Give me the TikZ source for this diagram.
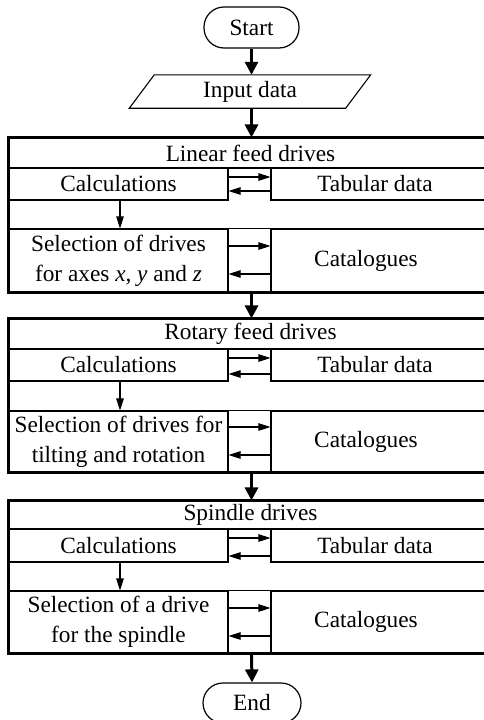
\documentclass[tikz,border=0pt]{standalone}
\usepackage{fontspec}
\setmainfont{Liberation Serif}
\usetikzlibrary{arrows.meta,calc}
\tikzset{
  thinline/.style={line width=1.1pt},
  cellbox/.style={draw, line width=1.1pt, inner sep=0pt, anchor=center, align=center},
  txt/.style={inner sep=0pt, anchor=center},
  terminal/.style={draw, line width=1.2pt, rounded corners=20pt, inner sep=0pt, anchor=center},
  outerbox/.style={line width=3pt},
  bigarrow/.style={line width=3pt, -{Triangle[length=13pt,width=13pt]}},
  smallarrow/.style={line width=1.1pt, -{Triangle[length=12pt,width=7.5pt]}},
}
\begin{document}
\begin{tikzpicture}[x=1pt,y=-1pt,font=\fontsize{23.3}{30}\selectfont]
\useasboundingbox (0,0) rectangle (484,720);
\clip (0,0) rectangle (484,720);

% Start and input
\node[terminal, minimum width=95, minimum height=41] (start) at (251.5,27.5) {Start};
\node[txt, minimum width=241, minimum height=33] (input) at (250,91.5) {Input data};
\draw[thinline] ($(input.north west)+(25,0)$) -- (input.north east) -- ($(input.south east)+(-25,0)$) -- (input.south west) -- cycle;

% ---------- Block 1 ----------
\node[cellbox, minimum width=483, minimum height=30] (title1) at (250.5,153) {Linear feed drives};
\node[cellbox, minimum width=219, minimum height=32] (calc1) at (118.5,184) {Calculations};
\node[cellbox, minimum width=221, minimum height=32] (tab1) at (381.5,184) {};
\node[txt] (tabt1) at (375,184) {Tabular data};
\node[cellbox, minimum width=219, minimum height=63] (sel1) at (118.5,260.5) {Selection of drives\\for axes \textit{x}, \textit{y} and \textit{z}};
\node[cellbox, minimum width=221, minimum height=63] (cat1) at (381.5,260.5) {};
\node[txt] (catt1) at (366,260.5) {Catalogues};
\draw[thinline] (sel1.north east) -- (cat1.north west);
\draw[smallarrow] (calc1.east |- 0,177) -- (tab1.west |- 0,177);
\draw[smallarrow] (tab1.west |- 0,191) -- (calc1.east |- 0,191);
\draw[smallarrow] (sel1.east |- 0,246) -- (cat1.west |- 0,246);
\draw[smallarrow] (cat1.west |- 0,274) -- (sel1.east |- 0,274);
\draw[smallarrow] (calc1.south -| 120,0) -- (sel1.north -| 120,0);
\draw[outerbox] (title1.north west) rectangle (cat1.south east);

% ---------- Block 2 ----------
\node[cellbox, minimum width=483, minimum height=30] (title2) at (250.5,334) {Rotary feed drives};
\node[cellbox, minimum width=219, minimum height=32] (calc2) at (118.5,365) {Calculations};
\node[cellbox, minimum width=221, minimum height=32] (tab2) at (381.5,365) {};
\node[txt] (tabt2) at (375,365) {Tabular data};
\node[cellbox, minimum width=219, minimum height=61] (sel2) at (118.5,441.5) {Selection of drives for\\tilting and rotation};
\node[cellbox, minimum width=221, minimum height=61] (cat2) at (381.5,441.5) {};
\node[txt] (catt2) at (366,441.5) {Catalogues};
\draw[thinline] (sel2.north east) -- (cat2.north west);
\draw[smallarrow] (calc2.east |- 0,358) -- (tab2.west |- 0,358);
\draw[smallarrow] (tab2.west |- 0,374) -- (calc2.east |- 0,374);
\draw[smallarrow] (sel2.east |- 0,427) -- (cat2.west |- 0,427);
\draw[smallarrow] (cat2.west |- 0,455) -- (sel2.east |- 0,455);
\draw[smallarrow] (calc2.south -| 120,0) -- (sel2.north -| 120,0);
\draw[outerbox] (title2.north west) rectangle (cat2.south east);

% ---------- Block 3 ----------
\node[cellbox, minimum width=483, minimum height=28] (title3) at (250.5,515) {Spindle drives};
\node[cellbox, minimum width=219, minimum height=33] (calc3) at (118.5,545.5) {Calculations};
\node[cellbox, minimum width=221, minimum height=33] (tab3) at (381.5,545.5) {};
\node[txt] (tabt3) at (375,545.5) {Tabular data};
\node[cellbox, minimum width=219, minimum height=62] (sel3) at (118.5,622) {Selection of a drive\\for the spindle};
\node[cellbox, minimum width=221, minimum height=62] (cat3) at (381.5,622) {};
\node[txt] (catt3) at (366,622) {Catalogues};
\draw[thinline] (sel3.north east) -- (cat3.north west);
\draw[smallarrow] (calc3.east |- 0,538) -- (tab3.west |- 0,538);
\draw[smallarrow] (tab3.west |- 0,556) -- (calc3.east |- 0,556);
\draw[smallarrow] (sel3.east |- 0,608) -- (cat3.west |- 0,608);
\draw[smallarrow] (cat3.west |- 0,636) -- (sel3.east |- 0,636);
\draw[smallarrow] (calc3.south -| 120,0) -- (sel3.north -| 120,0);
\draw[outerbox] (title3.north west) rectangle (cat3.south east);

% End
\node[terminal, minimum width=98, minimum height=40] (end) at (252,703) {End};

% main flow arrows
\draw[bigarrow] (start.south) -- (start.south |- input.north);
\draw[bigarrow] (start.south |- input.south) -- (start.south |- title1.north);
\draw[bigarrow] (start.south |- cat1.south) -- (start.south |- title2.north);
\draw[bigarrow] (start.south |- cat2.south) -- (start.south |- title3.north);
\draw[bigarrow] (start.south |- cat3.south) -- (end.north);
\end{tikzpicture}
\end{document}
